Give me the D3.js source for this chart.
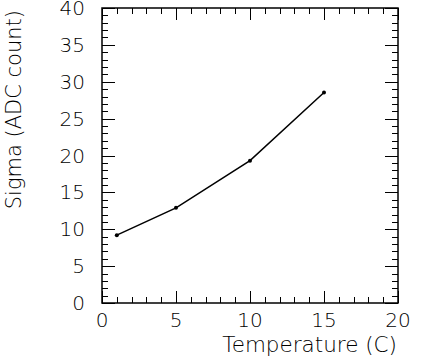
<!DOCTYPE html>
<html>
<head>
<meta charset="utf-8">
<script src="https://cdn.jsdelivr.net/npm/d3@7"></script>
<style>
  body { margin: 0; background: #fff; }
  svg text { font-family: "DejaVu Sans", sans-serif; font-weight: 200; fill: #000; }
</style>
</head>
<body>
<svg id="chart" width="436" height="358"></svg>
<script>
// values
var temperature = [1, 5, 10, 15];
var sigma = [9.2, 12.9, 19.3, 28.55];
var xTicks = [0, 5, 10, 15, 20];
var yTicks = [0, 5, 10, 15, 20, 25, 30, 35, 40];

var padL = 102, padR = 398, padT = 8, padB = 303;

var svg = d3.select('#chart');

var x = d3.scaleLinear().domain([0, 20]).range([padL, padR]);
var y = d3.scaleLinear().domain([0, 40]).range([padB, padT]);

var minorX = d3.range(0, 21, 1);
var minorY = d3.range(0, 41, 1);

// frame
svg.append('rect')
  .attr('x', padL).attr('y', padT)
  .attr('width', padR - padL).attr('height', padB - padT)
  .attr('fill', 'none').attr('stroke', '#000').attr('stroke-width', 1.5);

function isMajor(v) { return v % 5 === 0; }

// ticks on all four sides
var g = svg.append('g').attr('stroke', '#000').attr('stroke-width', 1);
minorX.forEach(function (v) {
  var len = isMajor(v) ? 12 : 6;
  var px = Math.round(x(v)) + 0.5;
  g.append('line').attr('x1', px).attr('x2', px).attr('y1', padB).attr('y2', padB - len);
  g.append('line').attr('x1', px).attr('x2', px).attr('y1', padT).attr('y2', padT + len);
});
minorY.forEach(function (v) {
  var len = isMajor(v) ? 13 : 6;
  var py = Math.round(y(v)) + 0.5;
  g.append('line').attr('y1', py).attr('y2', py).attr('x1', padL).attr('x2', padL + len);
  g.append('line').attr('y1', py).attr('y2', py).attr('x1', padR).attr('x2', padR - len);
});

// tick labels
svg.selectAll('text.xl')
  .data(xTicks)
  .join('text')
  .attr('class', 'xl')
  .attr('x', function (d) { return x(d); })
  .attr('y', 327)
  .attr('text-anchor', 'middle')
  .attr('font-size', 20)
  .text(function (d) { return d; });

svg.selectAll('text.yl')
  .data(yTicks)
  .join('text')
  .attr('class', 'yl')
  .attr('x', 85)
  .attr('y', function (d) { return y(d) + 7; })
  .attr('text-anchor', 'end')
  .attr('font-size', 20)
  .text(function (d) { return d; });

// axis titles
svg.append('text')
  .attr('x', 397).attr('y', 352)
  .attr('text-anchor', 'end')
  .attr('font-size', 21.5)
  .text('Temperature (C)');

svg.append('text')
  .attr('transform', 'translate(21,10) rotate(-90)')
  .attr('text-anchor', 'end')
  .attr('font-size', 21)
  .text('Sigma (ADC count)');

// data line and markers
var pts = temperature.map(function (t, i) { return [t, sigma[i]]; });

svg.append('path')
  .datum(pts)
  .attr('fill', 'none')
  .attr('stroke', '#000')
  .attr('stroke-width', 1.5)
  .attr('d', d3.line()
    .x(function (d) { return x(d[0]); })
    .y(function (d) { return y(d[1]); }));

svg.selectAll('circle')
  .data(pts)
  .join('circle')
  .attr('cx', function (d) { return x(d[0]); })
  .attr('cy', function (d) { return y(d[1]); })
  .attr('r', 2)
  .attr('fill', '#000');
</script>
</body>
</html>
